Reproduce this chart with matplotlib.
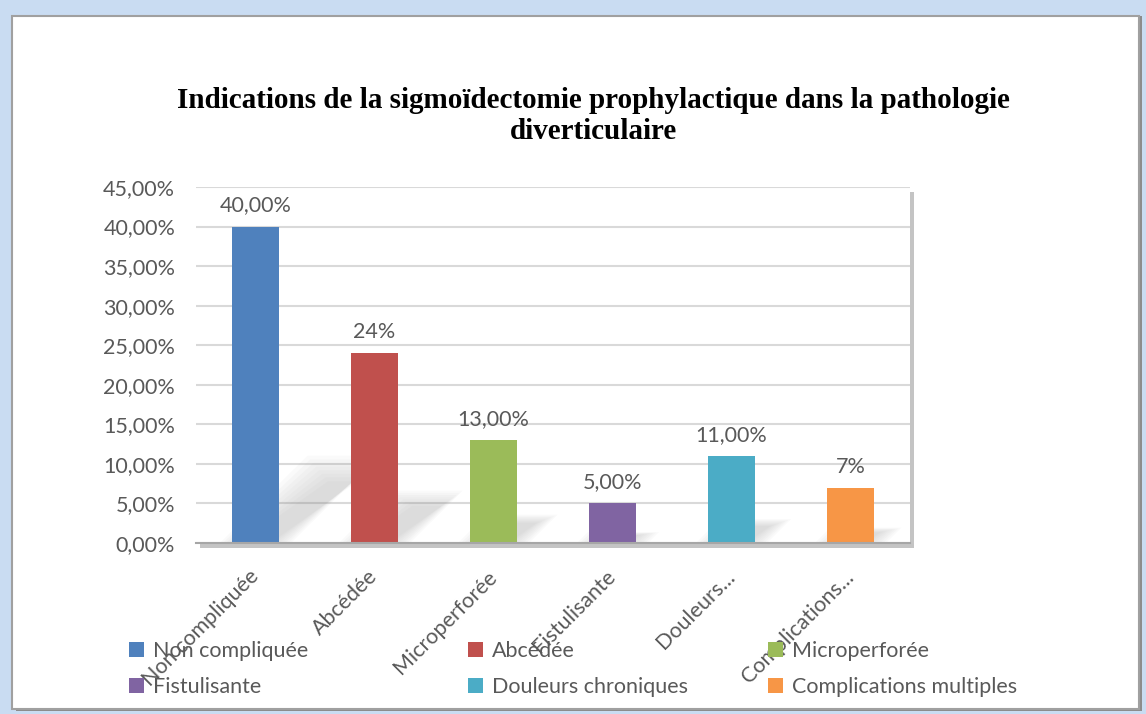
import matplotlib
matplotlib.use("Agg")
import matplotlib.pyplot as plt
from matplotlib.patches import Rectangle, Patch, Polygon
from matplotlib.ticker import MultipleLocator, FuncFormatter

# data
categories = ["Non compliquée", "Abcédée", "Microperforée", "Fistulisante",
              "Douleurs chroniques", "Complications multiples"]
tick_labels = ["Non compliquée", "Abcédée", "Microperforée", "Fistulisante",
               "Douleurs...", "Complications..."]
values = [40.0, 24.0, 13.0, 5.0, 11.0, 7.0]
value_labels = ["40,00%", "24%", "13,00%", "5,00%", "11,00%", "7%"]
colors = ["#4F81BD", "#C0504D", "#9BBB59", "#8064A2", "#4BACC6", "#F79646"]

title = "Indications de la sigmoïdectomie prophylactique dans la pathologie\ndiverticulaire"

plt.rcParams['font.family'] = ['Lato', 'DejaVu Sans']
TXT = "#595959"
FS = 15.5
BAR_W = 0.4

fig = plt.figure(figsize=(11.46, 7.14), dpi=100)
fig.patch.set_facecolor("#c9dcf2")
W, H = 1146, 714

def fx(px):
    return px / W

def fy(py):
    return 1 - py / H

# outer frame: white card with grey edge
fig.patches.append(Rectangle((fx(16), fy(711)), fx(1126), 695 / H,
                             transform=fig.transFigure, facecolor="#8c8c8c",
                             edgecolor="none", zorder=-2))
fig.patches.append(Rectangle((fx(12), fy(709)), fx(1127), 693 / H,
                             transform=fig.transFigure, facecolor="white",
                             edgecolor="#a0a0a0", linewidth=1.5, zorder=-1))

# plot area shadow
ax_l, ax_r, ax_t, ax_b = 196, 910, 187, 543
fig.patches.append(Rectangle((fx(ax_l + 4), fy(ax_b + 5)), fx(ax_r - ax_l),
                             (ax_b - ax_t) / H, transform=fig.transFigure,
                             facecolor="#c4c4c4", edgecolor="none", zorder=-0.5))

ax = fig.add_axes([fx(ax_l), fy(ax_b), fx(ax_r - ax_l), (ax_b - ax_t) / H])
ax.set_zorder(2)
ax.set_facecolor("white")

x = list(range(len(categories)))
bars = ax.bar(x, values, width=BAR_W, color=colors, zorder=3)

# soft perspective shadows cast up-right from each bar base
for xi, v in zip(x, values):
    sh = v * 0.23
    dx = sh * 0.08
    for k in range(8):
        grow = (k - 3) * 0.025
        top = sh * (1 + (k - 3) * 0.05)
        pts = [(xi - BAR_W / 2 - grow, 0), (xi + BAR_W / 2 + grow, 0),
               (xi + BAR_W / 2 + dx + grow, top),
               (xi - BAR_W / 2 + dx - grow, top)]
        ax.add_patch(Polygon(pts, closed=True, facecolor="#808080",
                             edgecolor="none", alpha=0.035, zorder=2))

for xi, v, lab in zip(x, values, value_labels):
    ax.annotate(lab, (xi, v), xytext=(0, 8), textcoords="offset points",
                ha="center", va="bottom", fontsize=FS, color=TXT)

ax.set_xlim(-0.5, len(categories) - 0.5)
ax.set_ylim(0, 45)
ax.yaxis.set_major_locator(MultipleLocator(5))
ax.yaxis.set_major_formatter(FuncFormatter(lambda v, p: f"{v:.2f}%".replace(".", ",")))
ax.grid(axis="y", color="#d9d9d9", linewidth=1.5, zorder=0)
ax.set_axisbelow(True)

for s in ["left", "right", "top"]:
    ax.spines[s].set_visible(False)
ax.spines["bottom"].set_color("#a6a6a6")
ax.spines["bottom"].set_linewidth(1.5)
ax.spines["bottom"].set_zorder(4)

ax.tick_params(axis="y", length=0, pad=15, labelsize=FS, labelcolor=TXT)
ax.tick_params(axis="x", length=0, pad=22, labelsize=FS, labelcolor=TXT)
ax.set_xticks(x)
ax.set_xticklabels(tick_labels, rotation=45, ha="right", va="center",
                   rotation_mode="anchor")

fig.text(0.518, fy(116), title, ha="center", va="center", fontsize=21,
         fontweight="bold", family="Liberation Serif", linespacing=1.2)

# legend: three columns of two entries
col_x = [129, 468, 768]
for c in range(3):
    idx = [c, c + 3]
    handles = [Patch(facecolor=colors[i], edgecolor="none") for i in idx]
    leg = fig.legend(handles, [categories[i] for i in idx],
                     loc="upper left", bbox_to_anchor=(fx(col_x[c]), fy(641)),
                     frameon=False, fontsize=FS, handlelength=0.7,
                     handleheight=0.7, handletextpad=0.4, labelspacing=0.75,
                     borderpad=0, borderaxespad=0)
    for t in leg.get_texts():
        t.set_color(TXT)

fig.savefig("out.png", dpi=100, facecolor=fig.get_facecolor())
